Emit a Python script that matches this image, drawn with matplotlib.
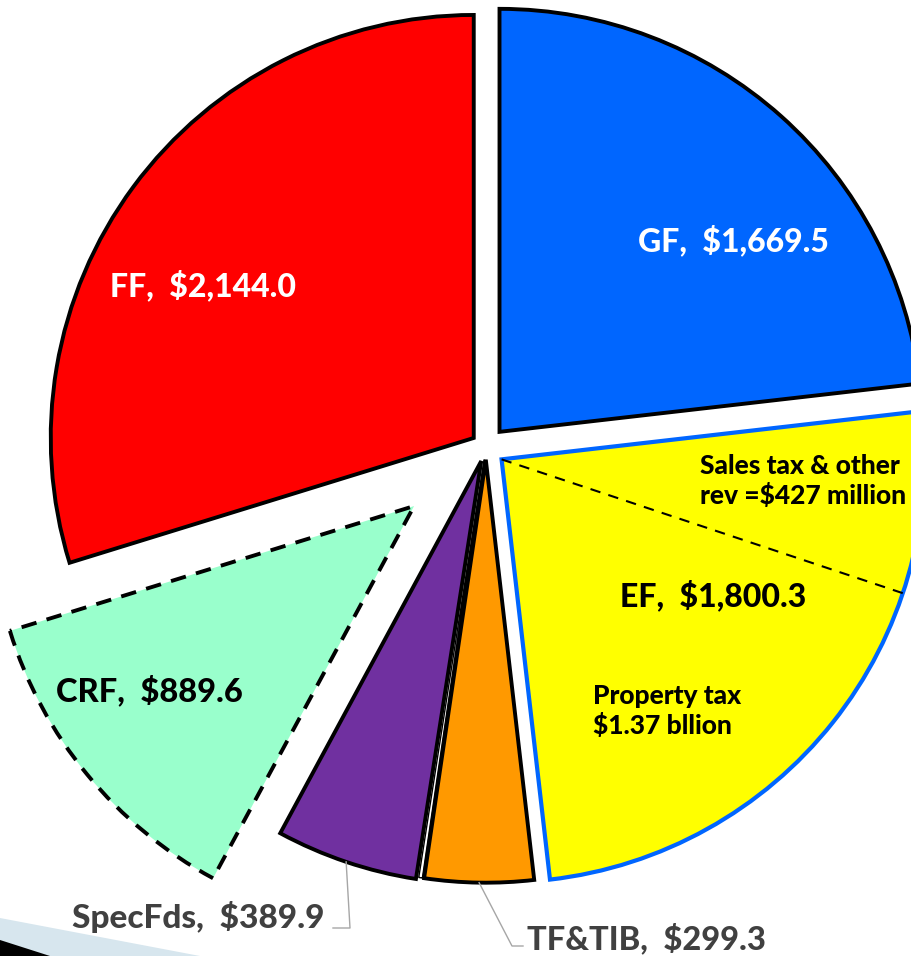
import numpy as np
import matplotlib.pyplot as plt
from matplotlib.patches import Polygon

# fund values ($ millions), clockwise from 12 o'clock
funds = ["GF", "EF", "TF&TIB", "Other", "SpecFds", "CRF", "FF"]
values = [1669.5, 1800.3, 299.3, 10.0, 389.9, 889.6, 2144.0]
labels = ["GF,  $1,669.5", "EF,  $1,800.3", "TF&TIB,  $299.3", "",
          "SpecFds,  $389.9", "CRF,  $889.6", "FF,  $2,144.0"]
colors = ["#0066FF", "#FFFF00", "#FF9900", "#FFFFFF", "#7030A0", "#99FFCC", "#FF0000"]
explode = [0.048, 0.047, 0.03, 0.03, 0.035, 0.22, 0.036]

ef_parts = ["Sales tax & other\nrev =$427 million", "Property tax\n$1.37 bllion"]
SPLIT_DEG = 25  # where the dashed split line sits inside EF

W, H = 912, 956
CX, CY, R = 486, H - 447, 423
FONT = ["Lato", "DejaVu Sans"]

fig = plt.figure(figsize=(W / 100, H / 100), dpi=100)
ax = fig.add_axes([0, 0, 1, 1])

# pie's explode is in data units, so scale by the radius
wedges, _ = ax.pie(values, colors=colors, explode=[e * R for e in explode],
                   startangle=90, counterclock=False, radius=R, center=(CX, CY),
                   wedgeprops=dict(linewidth=2.8, edgecolor="black"))
wedges[1].set_edgecolor("#0066FF")
wedges[1].set_linewidth(3.0)
wedges[3].set_linewidth(1.0)
wedges[3].set_zorder(0.5)
wedges[5].set_linestyle((0, (4, 2.7)))

# dashed split line in EF
ef = wedges[1]
ang = np.deg2rad(ef.theta2 - SPLIT_DEG)
ecx, ecy = ef.center
ax.plot([ecx, ecx + R * np.cos(ang)], [ecy, ecy + R * np.sin(ang)],
        color="black", lw=1.5, ls=(0, (5, 4)), zorder=5)

bold = dict(fontweight="black", family=FONT)
ax.text(733, H - 240, labels[0], color="white", fontsize=23, ha="center", va="center", **bold)
ax.text(203, H - 285, labels[6], color="white", fontsize=23, ha="center", va="center", **bold)
ax.text(713, H - 595, labels[1], color="black", fontsize=23, ha="center", va="center", **bold)
ax.text(149, H - 690, labels[5], color="black", fontsize=23.5, ha="center", va="center", **bold)
ax.text(700, H - 481, ef_parts[0], color="black", fontsize=19, ha="left", va="center",
        linespacing=1.2, **bold)
ax.text(593, H - 711, ef_parts[1], color="black", fontsize=19, ha="left", va="center",
        linespacing=1.2, **bold)


def mid_point(w):
    a = np.deg2rad((w.theta1 + w.theta2) / 2)
    return w.center[0] + R * np.cos(a), w.center[1] + R * np.sin(a)


# leader lines + outside labels
sx, sy = mid_point(wedges[4])
ax.plot([sx, 350, 333], [sy, H - 928, H - 928], color="#A6A6A6", lw=1, zorder=1)
ax.text(325, H - 917, labels[4], color="#404040", fontsize=24, ha="right", va="center", **bold)

tx, ty = mid_point(wedges[2])
ax.plot([tx, 512, 523], [ty, H - 946, H - 946], color="#A6A6A6", lw=1, zorder=1)
ax.text(527, H - 938, labels[2], color="#404040", fontsize=23.5, ha="left", va="center", **bold)

# slide decoration bottom-left
ax.add_patch(Polygon([(0, H - 918), (200, 0), (0, 0)], closed=True,
                     facecolor="#D7E6EE", edgecolor="none", zorder=0))
ax.add_patch(Polygon([(0, H - 940), (50, 0), (0, 0)], closed=True,
                     facecolor="black", edgecolor="none", zorder=0))

ax.set_xlim(0, W)
ax.set_ylim(0, H)
ax.set_aspect("equal")
ax.axis("off")
fig.savefig("out.png", dpi=100)
